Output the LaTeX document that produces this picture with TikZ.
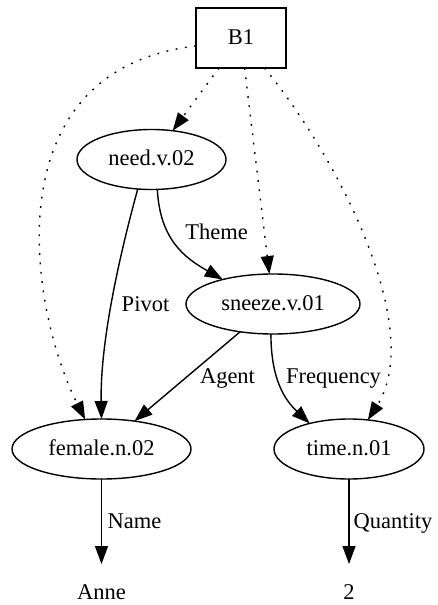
\documentclass[tikz,border=0pt]{standalone}
\usepackage{fontspec}
\setmainfont{Liberation Serif}
\usetikzlibrary{shapes.geometric,arrows.meta}
\begin{document}
\begin{tikzpicture}[x=1pt,y=-1pt,
  every node/.style={font=\fontsize{22.5}{27}\selectfont, inner sep=0pt, outer sep=0pt},
  concept/.style={ellipse, draw, line width=1.4pt, minimum height=60pt, text height=12pt, text depth=0pt},
  boxnode/.style={rectangle, draw, line width=1.4pt, minimum width=90pt, minimum height=60pt, text height=12pt, text depth=0pt},
  leaf/.style={minimum height=58pt, text height=12pt, text depth=0pt},
  rel/.style={-{Triangle[length=18pt,width=13pt]}, line width=1.4pt},
  ref/.style={rel, dash pattern=on 1.8pt off 7.6pt},
  lbl/.style={anchor=base}]
\useasboundingbox (0,0) rectangle (438,605);

% discourse box and concepts
\node[boxnode] (b1) at (241,38) {B1};
\node[concept, minimum width=149pt] (need) at (151.5,159.5) {need.v.02};
\node[concept, minimum width=174pt] (sneeze) at (273,304) {sneeze.v.01};
\node[concept, minimum width=179pt] (female) at (101.5,449) {female.n.02};
\node[concept, minimum width=150pt] (time) at (349,449) {time.n.01};
\node[leaf] (anne) at (101.5,593) {Anne};
\node[leaf] (two) at (349,593) {2};

% box membership (dotted)
\draw[ref] (b1) -- (need);
\draw[ref] (b1) -- (sneeze);
\draw[ref] (b1.190) .. controls (-10,70) and (30,310) .. (female.119);
\draw[ref] (b1.-52.5) .. controls (340,160) and (425,330) .. (time.57);

% roles
\draw[rel] (need.-115) .. controls (121,250) and (100,340) .. (female.north);
\draw[rel] (need.-79) .. controls (160,240) and (185,258) .. (sneeze.154);
\draw[rel] (sneeze) -- (female);
\draw[rel] (sneeze.-94) .. controls (271,380) and (285,400) .. (time.147);
\draw[rel] (female) -- (anne);
\draw[rel] (time) -- (two);

% role labels
\node[lbl] (lTheme) at (216.5,239) {Theme};
\node[lbl] (lPivot) at (145.5,311) {Pivot};
\node[lbl] (lAgent) at (227.5,383) {Agent};
\node[lbl] (lFreq) at (333.5,383) {Frequency};
\node[lbl] (lName) at (134.5,528) {Name};
\node[lbl] (lQuant) at (393,528) {Quantity};
\end{tikzpicture}
\end{document}
